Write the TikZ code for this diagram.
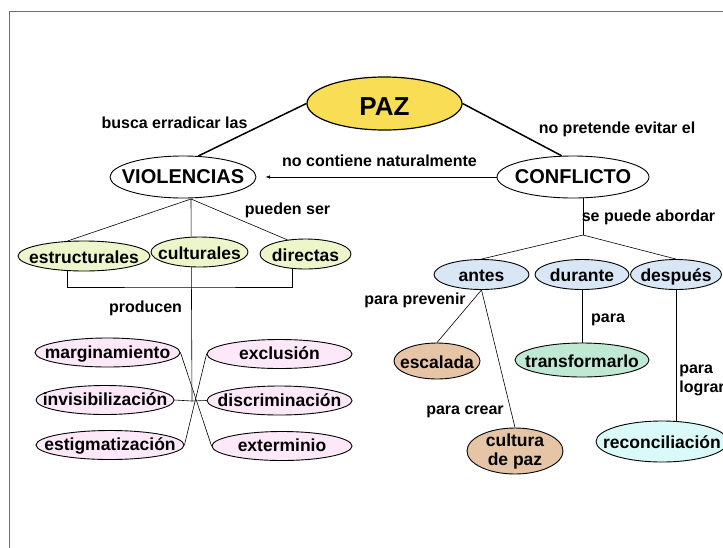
\documentclass[tikz,border=0pt]{standalone}
\usepackage{fontspec}
\setmainfont{Liberation Sans}
\usetikzlibrary{shapes.geometric,arrows}
\definecolor{pazyellow}{RGB}{249,221,85}
\definecolor{tipogreen}{RGB}{236,246,202}
\definecolor{efectopink}{RGB}{253,232,250}
\definecolor{momentoblue}{RGB}{216,230,246}
\definecolor{metatan}{RGB}{229,197,166}
\definecolor{metamint}{RGB}{192,233,211}
\definecolor{metacyan}{RGB}{218,250,250}
\definecolor{framegray}{RGB}{110,110,110}

\begin{document}
\begin{tikzpicture}[x=1pt,y=-1pt,line width=0.6pt,
  concept/.style={ellipse,draw,line width=0.9pt,inner xsep=-30pt,inner ysep=-6pt},
  big/.style={concept,fill=white,minimum height=42,font=\fontsize{20}{22}\selectfont\bfseries},
  leaf/.style={concept,text height=18pt,text depth=4pt,font=\fontsize{17.5}{19}\selectfont\bfseries},
  tipo/.style={leaf,fill=tipogreen,minimum height=30},
  efecto/.style={leaf,fill=efectopink,minimum height=29,text height=15pt},
  momento/.style={leaf,fill=momentoblue,minimum height=30},
  rel/.style={inner sep=0pt,anchor=base,font=\fontsize{16}{19}\selectfont\bfseries}]
\useasboundingbox (0,0) rectangle (723,547);
\draw[framegray] (9,11) rectangle (740,560);
\coordinate (vj) at (191,199);
\coordinate (hub) at (192,401);
\coordinate (bj) at (180,287);
\coordinate (cj) at (583,235);
\draw (vj) -- (hub);
\node [concept,fill=pazyellow,line width=1.2pt,minimum width=155,minimum height=53,text height=23pt,text depth=0pt,font=\fontsize{26}{28}\selectfont\bfseries] (paz) at (384.5,103.5) {PAZ};
\node [big,minimum width=146] (viol) at (183,177) {VIOLENCIAS};
\node [big,minimum width=152] (conf) at (573,177) {CONFLICTO};
% tipos de violencia
\node [tipo,minimum width=132] (estr) at (84,256) {estructurales};
\node [tipo,minimum width=97] (cult) at (199.5,252) {culturales};
\node [tipo,minimum width=91] (dir) at (305.5,254) {directas};
\node [efecto,minimum width=145] (marg) at (107.5,352.5) {marginamiento};
\node [efecto,minimum width=145] (excl) at (279.5,354) {exclusión};
\node [efecto,minimum width=138] (invis) at (105,400) {invisibilización};
\node [efecto,minimum width=145] (disc) at (279.5,400.5) {discriminación};
\node [efecto,minimum width=148] (estig) at (110,445) {estigmatización};
\node [efecto,minimum width=140] (exter) at (282,446) {exterminio};
% momentos del conflicto
\node [momento,minimum width=95] (antes) at (481.5,274.5) {antes};
\node [momento,minimum width=94] (dur) at (582,274.5) {durante};
\node [momento,minimum width=91] (desp) at (676,274.5) {después};
\node [leaf,fill=metatan,minimum width=86,minimum height=36] (esc) at (437,361) {escalada};
\node [concept,fill=metatan,minimum width=96,minimum height=46,align=center,font=\fontsize{17.5}{19}\selectfont\bfseries] (cpaz) at (515,451) {cultura\\de paz};
\node [leaf,fill=metamint,minimum width=134,minimum height=34] (trans) at (582,360) {transformarlo};
\node [leaf,fill=metacyan,minimum width=132,minimum height=41] (recon) at (662,441.5) {reconciliación};

\draw[line width=1.5pt] (paz.west) -- (viol.54);
\draw[line width=1.5pt] (paz.east) -- (conf.118);
\draw[-latex,shorten >=9pt] (conf.west) -- (viol.east);
\draw (vj) -- (estr.138);
\draw (vj) -- (dir.142);
\draw (estr.222) |- (bj) -| (dir.229);
\draw (marg.east) -- (exter.west);
\draw (excl.west) -- (estig.east);
\draw (invis.east) -- (hub) -- (disc.west);
\draw (cj |- conf.south) -- (cj);
\draw (cj) -- (antes.north);
\draw (cj) -- (desp.north);
\draw (antes.south) -- (esc.north);
\draw (antes.south) -- (cpaz.north);
\draw (dur.south) -- (trans.north);
\draw (desp.south) -- (desp.south |- recon.north);

\node [rel] at (174.5,128) {busca erradicar las};
\node [rel] at (617,133) {no pretende evitar el};
\node [rel] at (379.5,166) {no contiene naturalmente};
\node [rel] at (287.5,214) {pueden ser};
\node [rel] at (648.5,221) {se puede abordar};
\node [rel] at (145.5,312) {producen};
\node [rel] at (415,304) {para prevenir};
\node [rel] at (608,322) {para};
\node [rel] at (465,414) {para crear};
\node [rel,anchor=north west,align=left] at (679,365) {para\\lograr};
\end{tikzpicture}
\end{document}
